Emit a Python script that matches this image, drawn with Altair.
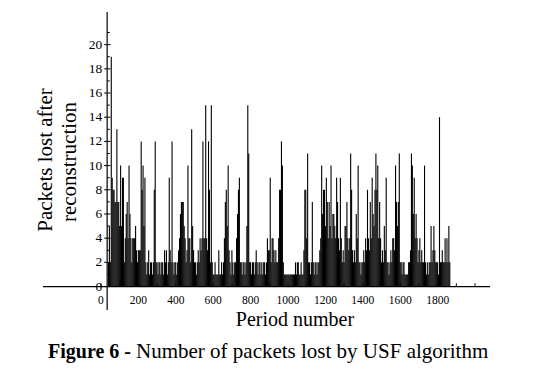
import altair as alt
import pandas as pd

# Packets lost after reconstruction, one value per 5 periods
lost = [
    2, 5, 2, 19, 9, 8, 8, 7, 7, 13, 7, 7, 5, 10, 5, 9, 9, 2, 4, 6,
    7, 4, 10, 6, 4, 2, 4, 4, 4, 5, 3, 2, 3, 3, 3, 12, 8, 10, 5, 9,
    2, 1, 2, 3, 1, 2, 2, 1, 2, 8, 12, 2, 2, 1, 2, 2, 1, 2, 2, 1,
    3, 2, 3, 1, 2, 9, 3, 2, 12, 2, 1, 2, 2, 1, 2, 3, 4, 6, 7, 7,
    7, 5, 4, 2, 3, 10, 4, 4, 2, 13, 5, 3, 2, 2, 1, 2, 3, 2, 4, 3,
    4, 12, 4, 4, 15, 4, 3, 12, 8, 2, 15, 2, 1, 1, 2, 1, 1, 1, 3, 1,
    1, 2, 1, 2, 4, 7, 8, 5, 10, 3, 2, 1, 3, 2, 1, 2, 2, 4, 6, 8,
    9, 2, 2, 1, 2, 2, 1, 2, 5, 15, 11, 2, 2, 1, 2, 2, 1, 2, 3, 2,
    1, 2, 2, 1, 2, 1, 2, 2, 1, 2, 4, 3, 3, 9, 2, 4, 4, 3, 2, 3,
    2, 2, 4, 8, 8, 12, 10, 2, 1, 1, 1, 1, 1, 1, 1, 1, 1, 1, 1, 1,
    2, 1, 2, 2, 1, 1, 2, 1, 1, 3, 8, 8, 4, 11, 2, 2, 1, 2, 7, 2,
    1, 2, 2, 1, 2, 2, 3, 4, 10, 6, 8, 8, 5, 9, 7, 4, 7, 5, 10, 4,
    6, 6, 5, 4, 9, 7, 4, 3, 9, 4, 2, 3, 2, 5, 5, 7, 4, 3, 4, 11,
    8, 3, 2, 3, 2, 6, 4, 10, 2, 2, 1, 2, 2, 3, 2, 4, 3, 8, 4, 3,
    7, 4, 9, 6, 5, 8, 11, 8, 10, 4, 7, 4, 2, 3, 2, 5, 3, 9, 2, 2,
    1, 2, 3, 2, 4, 4, 3, 10, 7, 5, 7, 11, 2, 2, 1, 2, 2, 1, 1, 1,
    1, 2, 2, 3, 11, 10, 6, 9, 4, 6, 4, 2, 3, 4, 2, 3, 2, 2, 10, 2,
    1, 2, 1, 2, 2, 5, 2, 3, 5, 3, 2, 2, 2, 1, 14, 2, 2, 3, 2, 2,
    4, 2, 4, 2, 5, 2,
]
first_period = 40
period_step = 5
periods = [first_period + period_step * i for i in range(len(lost))]

x_label_values = [0, 200, 400, 600, 800, 1000, 1200, 1400, 1600, 1800]
x_tick_values = list(range(0, 2001, 100))
y_label_values = [0, 2, 4, 6, 8, 10, 12, 14, 16, 18, 20]
y_minor_values = [1, 3, 5, 7, 9, 11, 13, 15, 17, 19, 21]

X_DOMAIN = [-310, 2080]
Y_DOMAIN = [-1.94, 22.7]
Y_AXIS_AT = 33
W, H = 447, 298
FONT = "Liberation Serif"

xs = alt.Scale(domain=X_DOMAIN, nice=False, zero=False)
ys = alt.Scale(domain=Y_DOMAIN, nice=False, zero=False)

df = pd.DataFrame({"period": periods, "lost": lost, "base": [0] * len(lost)})

spikes = alt.Chart(df).mark_rule(color="black", strokeWidth=1.1).encode(
    x=alt.X("period:Q", scale=xs, axis=None),
    y=alt.Y("lost:Q", scale=ys, axis=None),
    y2="base:Q",
)

x_axis_line = alt.Chart(pd.DataFrame({"v": [0]})).mark_rule(
    color="black", strokeWidth=1.2
).encode(
    y=alt.Y("v:Q", scale=ys, axis=None),
    x=alt.value(0),
    x2=alt.value(W),
)

y_axis_line = alt.Chart(pd.DataFrame({"p": [Y_AXIS_AT]})).mark_rule(
    color="black", strokeWidth=1.2
).encode(
    x=alt.X("p:Q", scale=xs, axis=None),
    y=alt.value(0),
    y2=alt.value(H),
)

y_major_ticks = alt.Chart(pd.DataFrame({
    "v": y_label_values,
    "a": [Y_AXIS_AT - 16] * len(y_label_values),
    "b": [Y_AXIS_AT + 18] * len(y_label_values),
})).mark_rule(color="black", strokeWidth=1).encode(
    y=alt.Y("v:Q", scale=ys, axis=None),
    x=alt.X("a:Q", scale=xs, axis=None),
    x2="b:Q",
)

y_minor_ticks = alt.Chart(pd.DataFrame({
    "v": y_minor_values,
    "a": [Y_AXIS_AT] * len(y_minor_values),
    "b": [Y_AXIS_AT + 14] * len(y_minor_values),
})).mark_rule(color="black", strokeWidth=1).encode(
    y=alt.Y("v:Q", scale=ys, axis=None),
    x=alt.X("a:Q", scale=xs, axis=None),
    x2="b:Q",
)

x_ticks = alt.Chart(pd.DataFrame({
    "p": x_tick_values,
    "a": [0] * len(x_tick_values),
    "b": [0.27] * len(x_tick_values),
})).mark_rule(color="black", strokeWidth=1).encode(
    x=alt.X("p:Q", scale=xs, axis=None),
    y=alt.Y("a:Q", scale=ys, axis=None),
    y2="b:Q",
)

x_labels = alt.Chart(pd.DataFrame({
    "p": x_label_values,
    "z": [0] * len(x_label_values),
    "t": [str(v) for v in x_label_values],
})).mark_text(
    font=FONT, fontSize=11.5, color="black", align="center", baseline="middle", dy=14
).encode(
    x=alt.X("p:Q", scale=xs, axis=None),
    y=alt.Y("z:Q", scale=ys, axis=None),
    text="t:N",
)

y_labels = alt.Chart(pd.DataFrame({
    "v": y_label_values,
    "a": [Y_AXIS_AT] * len(y_label_values),
    "t": [str(v) for v in y_label_values],
})).mark_text(
    font=FONT, fontSize=13.5, color="black", align="right", baseline="middle", dx=-5
).encode(
    y=alt.Y("v:Q", scale=ys, axis=None),
    x=alt.X("a:Q", scale=xs, axis=None),
    text="t:N",
)


def label(text, x, y, size, angle=0, align="center", weight="normal"):
    return alt.Chart(pd.DataFrame({"t": [text]})).mark_text(
        font=FONT, fontSize=size, color="black", align=align,
        baseline="alphabetic", angle=angle, fontWeight=weight,
    ).encode(x=alt.value(x), y=alt.value(y), text="t:N")


title1 = label("Packets lost after", 9, 148, 21, angle=270)
title2 = label("reconstruction", 33, 150, 21, angle=270)
xtitle = label("Period number", 252, 314, 20)
cap_bold = label("Figure 6 -", 5, 346, 20, align="left", weight="bold")
cap_text = label("Number of packets lost by USF algorithm", 93, 346, 21, align="left")

chart = alt.layer(
    spikes, x_axis_line, y_axis_line, y_major_ticks, y_minor_ticks, x_ticks,
    x_labels, y_labels, title1, title2, xtitle, cap_bold, cap_text,
).properties(
    width=W,
    height=H,
    padding={"left": 35, "top": 4, "right": 30, "bottom": 70},
    autosize=alt.AutoSizeParams(type="none"),
    background="white",
).configure_view(stroke=None)

chart.save("out.html", embed_options={"renderer": "svg", "actions": False})
